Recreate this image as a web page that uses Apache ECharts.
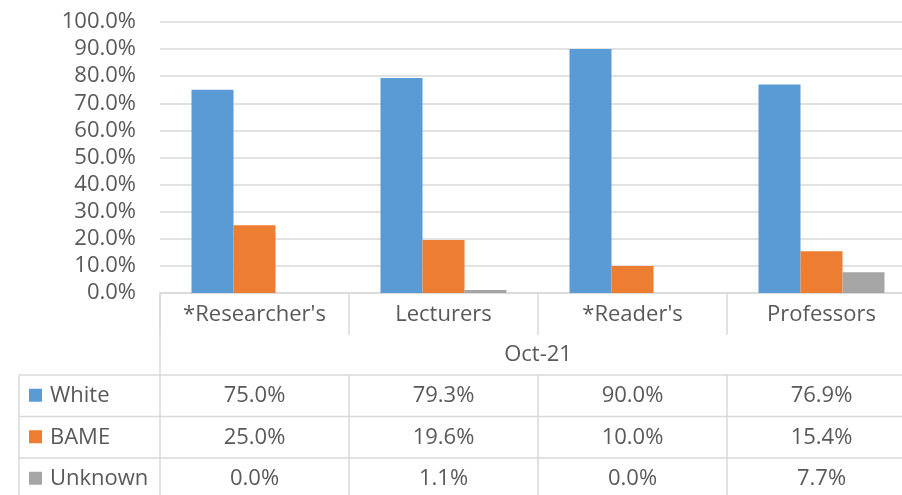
<!DOCTYPE html>
<html>
<head>
<meta charset="utf-8">
<script src="https://cdn.jsdelivr.net/npm/echarts@6/dist/echarts.min.js"></script>
<style>
  html, body { margin: 0; padding: 0; background: #fff; overflow: hidden; }
  /* the plot area runs slightly past the right edge of the window */
  #chart { width: 916px; height: 495px; }
</style>
</head>
<body>
<div id="chart"></div>
<script>
// Staff groups and ethnicity shares (percent), October 2021
const categories = ["*Researcher's", "Lecturers", "*Reader's", "Professors"];
const periodLabel = "Oct-21";
const seriesNames = ["White", "BAME", "Unknown"];
const whiteValues = [75.0, 79.3, 90.0, 76.9];
const bameValues = [25.0, 19.6, 10.0, 15.4];
const unknownValues = [0.0, 1.1, 0.0, 7.7];
const yTicks = [0, 10, 20, 30, 40, 50, 60, 70, 80, 90, 100];

const colors = ["#5B9BD5", "#ED7D31", "#A5A5A5"];
const seriesValues = [whiteValues, bameValues, unknownValues];
const FONT = "Open Sans";
const FS = 22;
const TEXT = "#595959";
const LINE = "#D9D9D9";

const chart = echarts.init(document.getElementById('chart'), null, { renderer: 'canvas' });

const option = {
  animation: false,
  backgroundColor: '#fff',
  textStyle: { fontFamily: FONT },
  grid: { left: 160, top: 22, right: 0, bottom: 202, containLabel: false },
  xAxis: {
    type: 'category',
    data: categories,
    axisLine: { show: true, lineStyle: { color: LINE, width: 1.5 } },
    axisTick: { show: true, length: 42, lineStyle: { color: LINE, width: 1.5 } },
    axisLabel: { color: TEXT, fontSize: FS, fontFamily: FONT, margin: 11, interval: 0 }
  },
  yAxis: {
    type: 'value',
    min: yTicks[0],
    max: yTicks[yTicks.length - 1],
    interval: yTicks[1] - yTicks[0],
    axisLine: { show: false },
    axisTick: { show: false },
    splitLine: { lineStyle: { color: LINE, width: 1.5 } },
    axisLabel: {
      color: TEXT, fontSize: FS, fontFamily: FONT, margin: 24,
      formatter: v => v.toFixed(1) + '%'
    }
  },
  series: seriesNames.map((name, i) => ({
    name: name,
    type: 'bar',
    data: seriesValues[i],
    barWidth: 42,
    barGap: '0%',
    itemStyle: { color: colors[i] }
  }))
};

chart.setOption(option);

// Data table under the plot, laid out from the category axis positions
function buildTable() {
  const step = chart.convertToPixel({ xAxisIndex: 0 }, 1) - chart.convertToPixel({ xAxisIndex: 0 }, 0);
  const centers = categories.map((c, i) => chart.convertToPixel({ xAxisIndex: 0 }, i));
  const axisY = chart.convertToPixel({ yAxisIndex: 0 }, 0);
  const plotLeft = centers[0] - step / 2;
  const plotRight = centers[centers.length - 1] + step / 2;
  const tableLeft = 19;
  const bottom = 495;
  const periodRowBottom = 375;
  const rowH = 41.5;
  const els = [];
  const line = (x1, y1, x2, y2) => els.push({
    type: 'line', silent: true,
    shape: { x1, y1, x2, y2 },
    style: { stroke: LINE, lineWidth: 1.5 }
  });
  const text = (x, y, str, align) => els.push({
    type: 'text', silent: true,
    style: {
      x, y, text: str, fill: TEXT, font: FS + 'px "' + FONT + '"',
      textAlign: align, textVerticalAlign: 'middle'
    }
  });

  // outer verticals
  line(plotLeft, axisY, plotLeft, bottom);
  line(tableLeft, periodRowBottom, tableLeft, bottom);
  // column separators in the value rows
  for (let i = 1; i < categories.length; i++) {
    const x = centers[i] - step / 2;
    line(x, periodRowBottom, x, bottom);
  }
  // period label spanning the categories
  text((plotLeft + plotRight) / 2, (axisY + 42 + periodRowBottom) / 2, periodLabel, 'center');

  seriesNames.forEach((name, r) => {
    const top = periodRowBottom + r * rowH;
    line(tableLeft, top, plotRight, top);
    const cy = top + rowH / 2;
    els.push({
      type: 'rect', silent: true,
      shape: { x: 29, y: cy - 7, width: 13, height: 13 },
      style: { fill: colors[r] }
    });
    text(50, cy, name, 'left');
    seriesValues[r].forEach((v, c) => {
      text(centers[c], cy, v.toFixed(1) + '%', 'center');
    });
  });
  chart.setOption({ graphic: { elements: els } });
}
buildTable();
</script>
</body>
</html>
